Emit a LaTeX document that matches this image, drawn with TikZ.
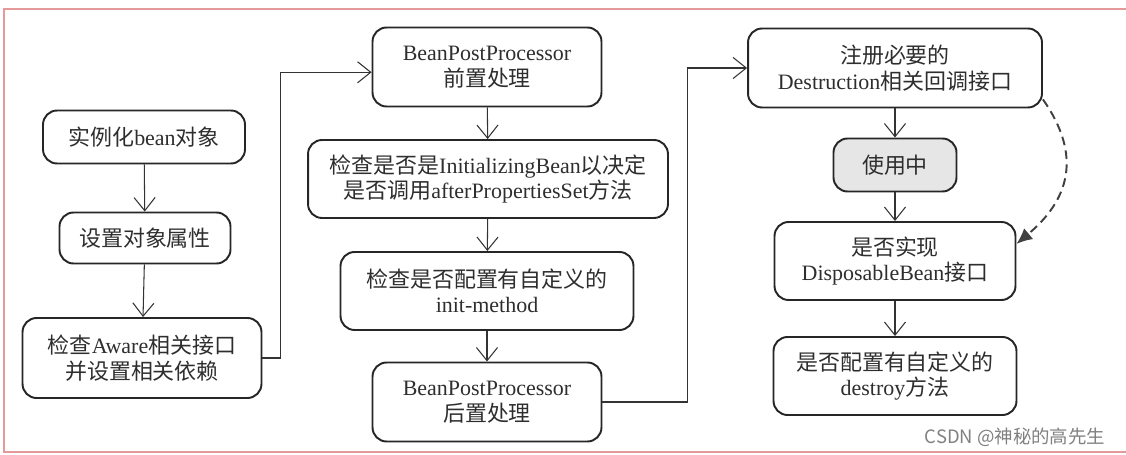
\documentclass[tikz,border=0pt]{standalone}
\usepackage{fontspec}
\setmainfont{Liberation Serif}
\newfontfamily\cjk{Noto Sans CJK SC}
\usetikzlibrary{arrows.meta, positioning}
\definecolor{framered}{HTML}{E49A9A}
\definecolor{ink}{HTML}{2E2E2E}
\definecolor{busyfill}{HTML}{E6E6E6}
\newcommand{\zh}[1]{{\cjk #1}}

\begin{document}
\begin{tikzpicture}[
    x=0.02cm, y=-0.02cm,
    stage/.style={draw=black!85, line width=1.1pt, rounded corners=8pt,
                  align=center, inner sep=0pt, text=ink,
                  font=\fontsize{12.5}{14.5}\selectfont},
    busy/.style={stage, fill=busyfill},
    flow/.style={draw=black!80, line width=0.6pt,
                 -{Straight Barb[length=7.5pt, width=12pt]}},
    cb/.style={draw=black!75, line width=1.1pt, dash pattern=on 5pt off 3pt,
               -{Latex[length=9pt, width=8pt]}},
    creditlbl/.style={text=black!50, font=\cjk\fontsize{10.5}{12}\selectfont},
  ]
  \useasboundingbox (0,0) rectangle (1126,455);
  \draw[framered, line width=0.8pt] (1130,9) -- (4,9) -- (4,452) -- (1130,452);

  % ===== column 1: create the bean =====
  \node[stage, minimum width=4.04cm, minimum height=1.06cm] (inst) at (144,137)
    {\zh{实例化}bean\zh{对象}};
  \node[stage, minimum width=3.42cm, minimum height=1.02cm] (props) at (145,238)
    {\zh{设置对象属性}};
  \node[stage, minimum width=4.78cm, minimum height=1.6cm] (aware) at (142,358)
    {\zh{检查}Aware\zh{相关接口}\\\zh{并设置相关依赖}};
  \draw[flow] (inst) -- (props);
  \draw[flow] (props) -- (aware);

  % ===== column 2: initialisation =====
  \node[stage, minimum width=4.58cm, minimum height=1.58cm] (bppre) at (487,67)
    {BeanPostProcessor\\\zh{前置处理}};
  \node[stage, minimum width=7.2cm, minimum height=1.56cm] (initbean) at (488,179)
    {\zh{检查是否是}InitializingBean\zh{以决定}\\\zh{是否调用}afterPropertiesSet\zh{方法}};
  \node[stage, minimum width=5.86cm, minimum height=1.56cm] (initm) at (487,291)
    {\zh{检查是否配置有自定义的}\\init-method};
  \node[stage, minimum width=4.58cm, minimum height=1.58cm] (bppost) at (487,402)
    {BeanPostProcessor\\\zh{后置处理}};
  \draw[flow] (aware.east) -- ++(18,0) |- ([yshift=-3pt]bppre.west);
  \draw[flow] (bppre) -- (initbean);
  \draw[flow] (initbean) -- (initm);
  \draw[flow] (initm) -- (bppost);

  % ===== column 3: use and destruction =====
  \node[stage, minimum width=5.88cm, minimum height=1.58cm] (regdes) at (895,68)
    {\zh{注册必要的}\\Destruction\zh{相关回调接口}};
  \node[busy, minimum width=2.46cm, minimum height=1.06cm] (inuse) at (895,165)
    {\zh{使用中}};
  \node[stage, minimum width=4.82cm, minimum height=1.56cm] (dispb) at (895,261)
    {\zh{是否实现}\\DisposableBean\zh{接口}};
  \node[stage, minimum width=4.86cm, minimum height=1.56cm] (destroym) at (895,376)
    {\zh{是否配置有自定义的}\\destroy\zh{方法}};
  \draw[flow] (bppost.east) -- ++(85,0) |- (regdes.west);
  \draw[flow] (regdes) -- (inuse);
  \draw[flow] (inuse) -- (dispb);
  \draw[flow] (dispb) -- (destroym);
  \draw[cb] (regdes.-12) to[out=-55, in=40, looseness=1.2] (dispb.8);

  \node[creditlbl] (credit) at (1015,437) {CSDN @神秘的高先生};
\end{tikzpicture}
\end{document}
